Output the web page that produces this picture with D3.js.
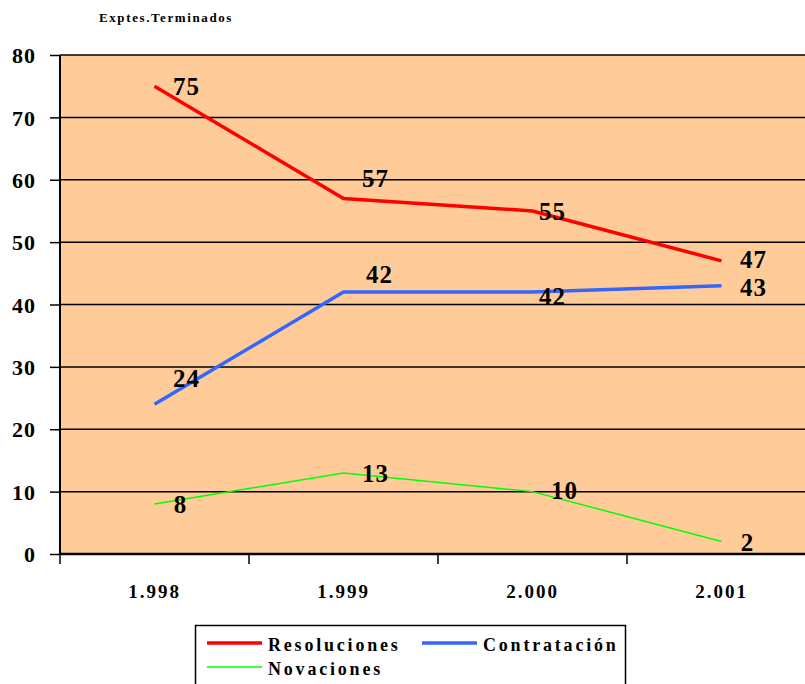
<!DOCTYPE html>
<html>
<head>
<meta charset="utf-8">
<script src="https://cdn.jsdelivr.net/npm/d3@7"></script>
<style>
  body { margin: 0; background: #fff; }
  text { font-family: "Liberation Serif", "Times New Roman", serif; font-weight: bold; fill: #000; }
</style>
</head>
<body>
<svg class="chart"></svg>
<script>
const years = ["1.998", "1.999", "2.000", "2.001"];
const resoluciones = [75, 57, 55, 47];
const contratacion = [24, 42, 42, 43];
const novaciones = [8, 13, 10, 2];
const yTicks = [0, 10, 20, 30, 40, 50, 60, 70, 80];

const width = 805, height = 684;
const plotLeft = 60, plotTop = 55, plotBottom = 554, plotRight = 816;

const series = [
  { name: "Resoluciones", values: resoluciones, color: "#ff0000", width: 3.5,
    nudge: [[0, 0], [0, -20], [-12, 0], [0, -2]] },
  { name: "Contratación", values: contratacion, color: "#3366ff", width: 3.5,
    nudge: [[0, -26], [4, -18], [-12, 4], [0, 1]] },
  { name: "Novaciones", values: novaciones, color: "#00ff00", width: 1.5,
    nudge: [[-6, 0], [0, 0], [0, -2], [-6, 0]] }
];

// Scales
const x = d3.scaleBand().domain(years).range([plotLeft, plotRight]);
const y = d3.scaleLinear().domain([0, 80]).range([plotBottom, plotTop]);

const svg = d3.select(".chart").attr("width", width).attr("height", height);

// Plot background
svg.append("rect")
  .attr("x", plotLeft).attr("y", plotTop)
  .attr("width", plotRight - plotLeft).attr("height", plotBottom - plotTop)
  .attr("fill", "#ffcc99");

// Grid lines
svg.append("g").selectAll("line").data(yTicks.filter(d => d > 0)).join("line")
  .attr("x1", plotLeft).attr("x2", plotRight)
  .attr("y1", d => y(d)).attr("y2", d => y(d))
  .attr("stroke", "#000").attr("stroke-width", 1.5);

// Y axis
const yAxis = svg.append("g").attr("transform", `translate(${plotLeft},0)`)
  .call(d3.axisLeft(y).tickValues(yTicks).tickSize(10).tickPadding(14));
yAxis.select(".domain").attr("stroke-width", 2).attr("d", `M0,${plotTop}V${plotBottom}`);
yAxis.selectAll(".tick line").attr("stroke-width", 1.5);
yAxis.selectAll("text").style("font-size", "22px").style("letter-spacing", "1px").attr("dy", "0.35em");

// X axis
const xAxis = svg.append("g").attr("transform", `translate(0,${plotBottom})`);
xAxis.append("line").attr("x1", plotLeft).attr("x2", plotRight)
  .attr("stroke", "#000").attr("stroke-width", 2.5);
xAxis.selectAll(".xtick").data(years.concat(["end"])).join("line")
  .attr("class", "xtick")
  .attr("x1", (d, i) => plotLeft + i * x.bandwidth()).attr("x2", (d, i) => plotLeft + i * x.bandwidth())
  .attr("y1", 0).attr("y2", 10)
  .attr("stroke", "#000").attr("stroke-width", 1.5);
xAxis.selectAll("text").data(years).join("text")
  .attr("x", d => x(d) + x.bandwidth() / 2).attr("y", 44)
  .attr("text-anchor", "middle")
  .style("font-size", "19px").style("letter-spacing", "2px")
  .text(d => d);

// Lines
const line = d3.line()
  .x((d, i) => x(years[i]) + x.bandwidth() / 2)
  .y(d => y(d));

series.forEach(s => {
  svg.append("path").datum(s.values)
    .attr("fill", "none").attr("stroke", s.color)
    .attr("stroke-width", s.width).attr("d", line);
});

// Data labels
series.forEach(s => {
  svg.append("g").selectAll("text").data(s.values).join("text")
    .attr("x", (d, i) => x(years[i]) + x.bandwidth() / 2 + 32 + s.nudge[i][0])
    .attr("y", (d, i) => y(d) + 9 + s.nudge[i][1])
    .attr("text-anchor", "middle")
    .style("font-size", "25px").style("letter-spacing", "1px")
    .text(d => d);
});

// Title
svg.append("text").attr("x", 166).attr("y", 22).attr("text-anchor", "middle")
  .style("font-size", "13px").style("letter-spacing", "1.6px")
  .text("Exptes.Terminados");

// Legend
const legend = svg.append("g");
legend.append("rect").attr("x", 195.5).attr("y", 625.5)
  .attr("width", 430).attr("height", 70)
  .attr("fill", "#fff").attr("stroke", "#000").attr("stroke-width", 1.5);
const legendPos = [[207, 643], [422, 643], [207, 667]];
series.forEach((s, i) => {
  const [lx, ly] = legendPos[i];
  legend.append("line").attr("x1", lx).attr("x2", lx + 55).attr("y1", ly).attr("y2", ly)
    .attr("stroke", s.color).attr("stroke-width", s.width);
  legend.append("text").attr("x", lx + 61).attr("y", ly + 8)
    .style("font-size", "18px").style("letter-spacing", "2.8px")
    .text(s.name);
});
</script>
</body>
</html>
